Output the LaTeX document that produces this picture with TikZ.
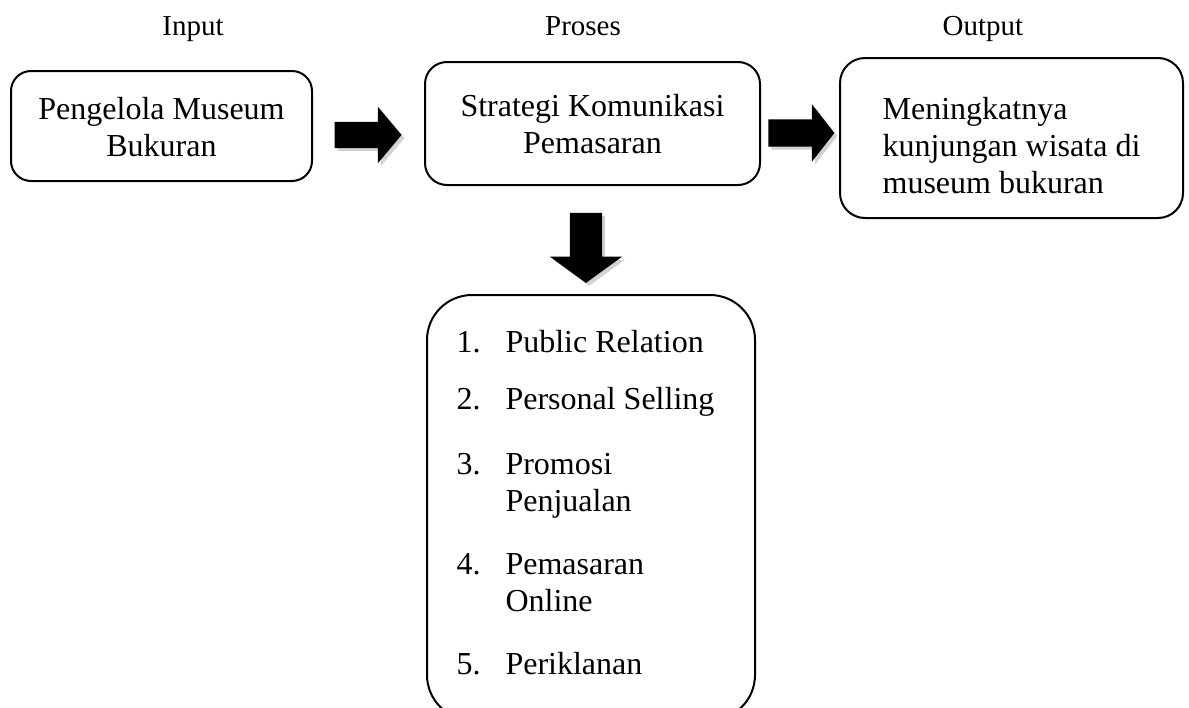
\documentclass[tikz,border=0pt]{standalone}
\usepackage{fontspec}
\setmainfont{Liberation Serif}
\usetikzlibrary{shapes.arrows,shadows}

\tikzset{
  kotak/.style={draw, line width=2pt, align=center, text depth=0pt, font=\fontsize{32}{37}\selectfont},
  panah/.style={single arrow, fill=black, draw=none, inner xsep=0pt,
    single arrow head indent=0pt,
    drop shadow={shadow xshift=3pt, shadow yshift=-3pt, fill=black!35}},
  judul/.style={anchor=base, font=\fontsize{29}{33}\selectfont},
  isi/.style={anchor=base west, font=\fontsize{32}{37}\selectfont}
}

\begin{document}
\begin{tikzpicture}[x=1pt, y=-1pt]
  \useasboundingbox (0,0) rectangle (1189,707);
  % judul kolom
  \node[judul] (input) at (193,35) {Input};
  \node[judul] (proses) at (583,35) {Proses};
  \node[judul] (output) at (983,35) {Output};
  % kotak
  \node[kotak, rounded corners=20pt, minimum width=301pt, minimum height=110pt, text height=60pt] (pengelola) at (161.5,126) {Pengelola Museum\\Bukuran};
  \node[kotak, rounded corners=22pt, minimum width=335pt, minimum height=123pt, text height=59pt] (strategi) at (592.5,123.5) {Strategi Komunikasi\\Pemasaran};
  \node[kotak, rounded corners=25pt, minimum width=343pt, minimum height=160pt, text height=110pt, align=left] (hasil) at (1011.5,138) {Meningkatnya\\kunjungan wisata di\\museum bukuran};
  \node[kotak, rounded corners=45pt, minimum width=328pt, minimum height=425pt] (daftar) at (591,507.5) {};
  % panah blok
  \node[panah, minimum height=67pt, inner ysep=13pt, single arrow head extend=15pt, single arrow tip angle=100] (panah1) at (362.5,135) {};
  \node[panah, minimum height=66pt, inner ysep=13.5pt, single arrow head extend=15pt, single arrow tip angle=104] (panah2) at (796,133) {};
  \node[panah, rotate=-90, minimum height=70pt, inner ysep=16pt, single arrow head extend=20pt, single arrow tip angle=108] (panah3) at (586,242) {};
  % isi daftar
  \foreach \n/\teks/\y in {1/Public Relation/352, 2/Personal Selling/409, 3/Promosi\\Penjualan/474, 4/Pemasaran\\Online/574, 5/Periklanan/674} {
    \node[isi] (no\n) at (453,\y) {\n.};
    \node[isi] (item\n) at (502,\y) {\begin{tabular}[t]{@{}l@{}}\teks\end{tabular}};
  }
\end{tikzpicture}
\end{document}
